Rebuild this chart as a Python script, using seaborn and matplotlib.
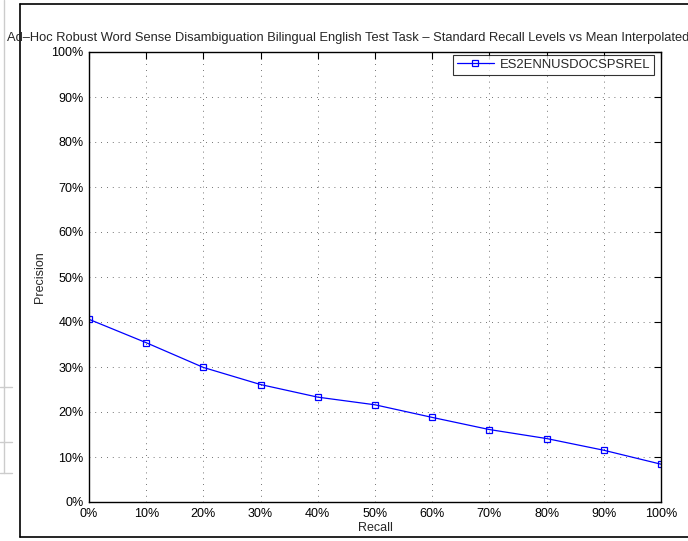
import pandas as pd
import seaborn as sns
import matplotlib.pyplot as plt
from matplotlib.lines import Line2D
from matplotlib.ticker import PercentFormatter

recall = [0, 10, 20, 30, 40, 50, 60, 70, 80, 90, 100]
precision = [40.6, 35.4, 29.9, 26.1, 23.3, 21.6, 18.8, 16.1, 14.1, 11.5, 8.4]
run_name = 'ES2ENNUSDOCSPSREL'
title = ('Ad\u2013Hoc Robust Word Sense Disambiguation Bilingual English Test Task \u2013 '
         'Standard Recall Levels vs Mean Interpolated Precision')

df = pd.DataFrame({'Recall': recall, 'Precision': precision, 'Run': run_name})

sns.set_style('white')
plt.rcParams['font.family'] = ['Liberation Sans', 'DejaVu Sans']

fig = plt.figure(figsize=(6.88, 5.41), dpi=100)
ax = fig.add_axes([89 / 688, 39 / 541, 572 / 688, 450 / 541])

sns.lineplot(
    data=df, x='Recall', y='Precision', hue='Run',
    palette=['#0000ff'], marker='s', markersize=5,
    markerfacecolor='none', markeredgecolor='#0000ff', markeredgewidth=0.9,
    linewidth=0.9, ax=ax
)

ax.set_xlim(0, 100)
ax.set_ylim(0, 100)
ax.set_xticks(range(0, 101, 10))
ax.set_yticks(range(0, 101, 10))
ax.xaxis.set_major_formatter(PercentFormatter(decimals=0))
ax.yaxis.set_major_formatter(PercentFormatter(decimals=0))
ax.tick_params(direction='in', length=5, width=0.8, top=True, right=True,
               labelsize=9, colors='black', pad=4)
ax.grid(True, linestyle=(0, (1, 6)), color='#444444', linewidth=0.6)
for sp in ax.spines.values():
    sp.set_color('black')
    sp.set_linewidth(1.0)

ax.set_xlabel('Recall', fontsize=9, labelpad=2)
ax.set_ylabel('Precision', fontsize=9, labelpad=4)

leg = ax.legend(loc='upper right', bbox_to_anchor=(565 / 572, 447 / 450),
                fontsize=9.4, frameon=True, fancybox=False, borderaxespad=0,
                borderpad=0.3, handlelength=2.9, handletextpad=0.4)
leg.get_frame().set_edgecolor('black')
leg.get_frame().set_linewidth(0.8)

fig.text(376 / 688, (541 - 38) / 541, title, ha='center', va='center', fontsize=9.3)

# figure frame
fig.add_artist(Line2D([20 / 688, 20 / 688], [4 / 541, 537 / 541],
                      transform=fig.transFigure, color='black', linewidth=1.2))
fig.add_artist(Line2D([20 / 688, 1.01], [537 / 541, 537 / 541],
                      transform=fig.transFigure, color='black', linewidth=1.2))
fig.add_artist(Line2D([20 / 688, 1.01], [4 / 541, 4 / 541],
                      transform=fig.transFigure, color='black', linewidth=1.2))

# remnants of neighbouring page at the left edge
grey = '#cccccc'
fig.add_artist(Line2D([4 / 688, 4 / 688], [(541 - 473) / 541, 1],
                      transform=fig.transFigure, color=grey, linewidth=1))
for yy in (387, 442, 473):
    fig.add_artist(Line2D([0, 12 / 688], [(541 - yy) / 541] * 2,
                          transform=fig.transFigure, color=grey, linewidth=1))

fig.savefig('out.png', dpi=100)
